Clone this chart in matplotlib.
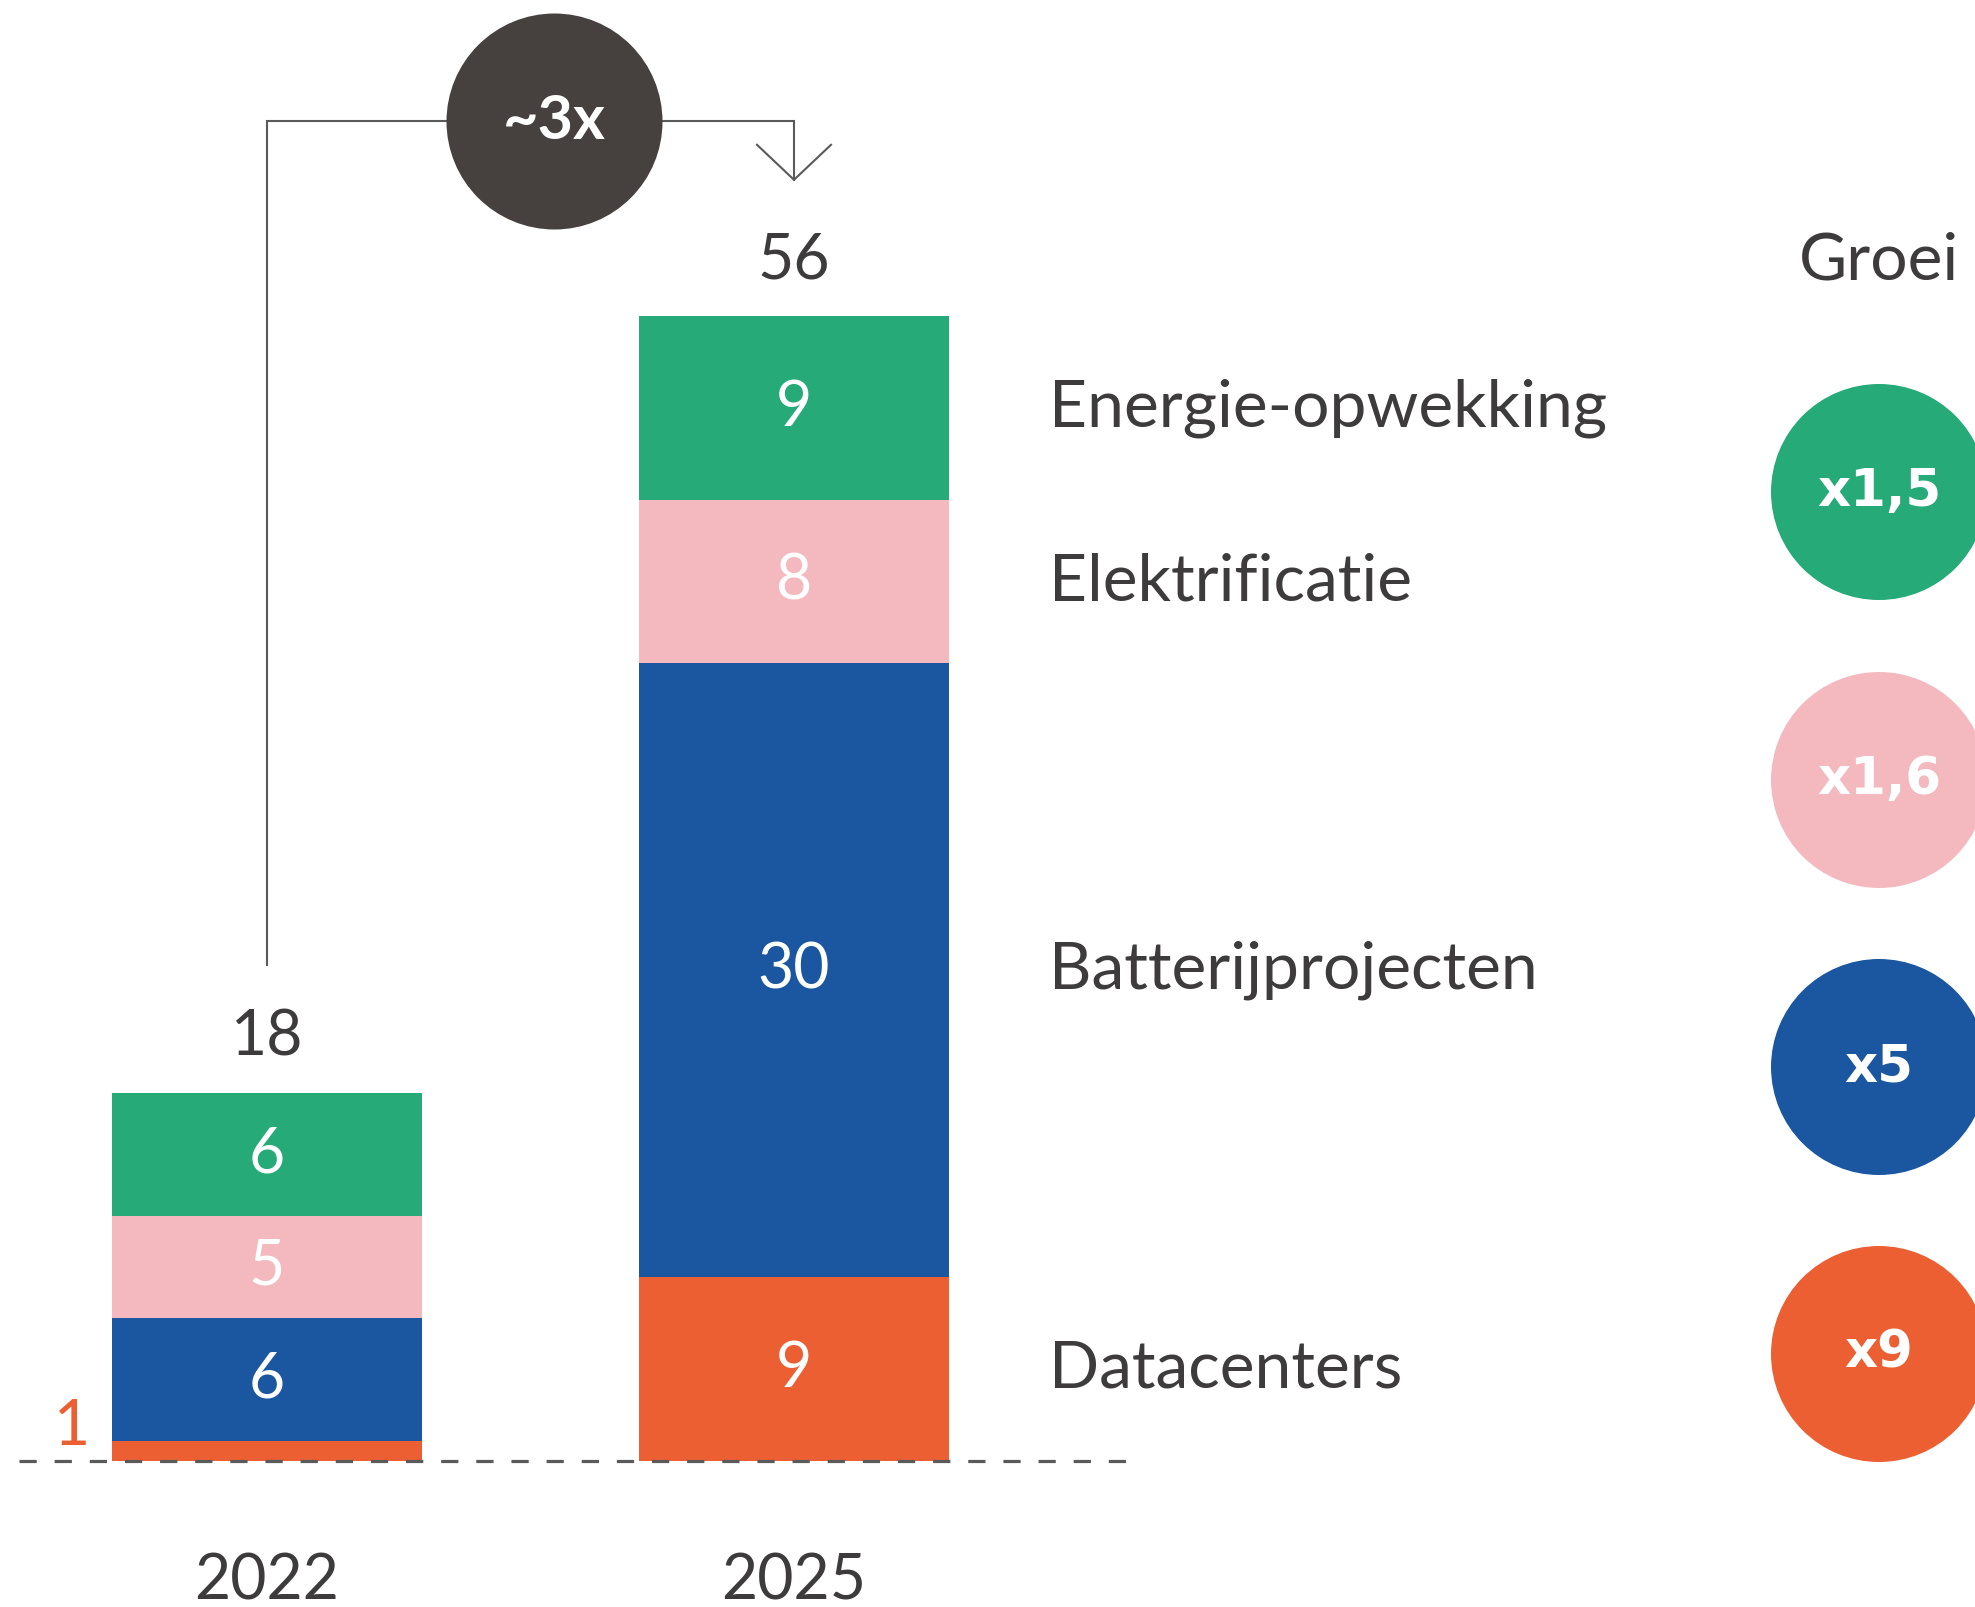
import numpy as np
import matplotlib
matplotlib.use('Agg')
import matplotlib.pyplot as plt

# data

years = ['2022', '2025']
categories = ['Datacenters', 'Batterijprojecten', 'Elektrificatie', 'Energie-opwekking']
values_2022 = [1, 6, 5, 6]
values_2025 = [9, 30, 8, 9]
growth = ['x9', 'x5', 'x1,6', 'x1,5']
colors = ['#EB5F33', '#1B56A0', '#F4B9BE', '#25AA78']
total_growth = '~3x'

txt = '#3d3b3b'
plt.rcParams['font.family'] = ['Lato', 'DejaVu Sans']

# canvas: one axes over the whole figure, y in data units

W, H = 1975, 1607
x0_px, dx_px = 267, 527      # centre of first bar, distance between bars
base_px, unit_px = 1461, 20.45

fig = plt.figure(figsize=(W / 100, H / 100), dpi=100)
ax = fig.add_axes([0, 0, 1, 1])
ax.axis('off')
ax.set_xlim(-x0_px / dx_px, (W - x0_px) / dx_px)
ax.set_ylim(-(H - base_px) / unit_px, base_px / unit_px)

def px(x, y):
    # figure pixel (top-left origin) -> data coords
    return (x - x0_px) / dx_px, (base_px - y) / unit_px

xpos = np.arange(len(years))
width = 0.59
fs = 45        # numbers
fs_lab = 47.5  # category names

# stacked bars

bottoms = np.zeros(len(years))
for i, cat in enumerate(categories):
    vals = np.array([values_2022[i], values_2025[i]], dtype=float)
    ax.bar(xpos, vals, width=width, bottom=bottoms, color=colors[i], linewidth=0, zorder=2)
    for j in range(len(years)):
        v = vals[j]
        if v >= 2:
            ax.text(xpos[j], bottoms[j] + v / 2, '%d' % v, color='white', fontsize=fs,
                    ha='center', va='center', zorder=3)
        else:
            ax.text(xpos[j] - width / 2 - 39 / dx_px, bottoms[j] + v + 0.66, '%d' % v,
                    color=colors[i], fontsize=fs, ha='center', va='center', zorder=3)
    # category label next to the last bar
    ax.text(px(1049, 0)[0], bottoms[-1] + vals[-1] / 2, cat, color=txt, fontsize=fs_lab,
            ha='left', va='center')
    bottoms += vals

totals = bottoms
for j in range(len(years)):
    ax.annotate('%d' % totals[j], (xpos[j], totals[j]), xytext=(0, 40), textcoords='offset points',
                ha='center', va='center', fontsize=fs, color=txt)
    ax.annotate(years[j], (xpos[j], 0), xytext=(0, -87), textcoords='offset points',
                ha='center', va='center', fontsize=fs, color=txt)

# baseline
ax.plot([px(19, 0)[0], px(1128, 0)[0]], [0, 0], color='#5a5a5a', lw=2.3,
        dashes=(5.4, 5.6), zorder=4)

# growth bracket
y_top = px(0, 121)[1]
y_start = totals[0] + 128 / unit_px
y_tip = totals[1] + 136 / unit_px
lc = '#5a5a5a'
ax.plot([xpos[0], xpos[0], xpos[1], xpos[1]], [y_start, y_top, y_top, y_tip], color=lc, lw=1.5,
        solid_joinstyle='miter')
ax.plot([xpos[1] - 37 / dx_px, xpos[1], xpos[1] + 37 / dx_px],
        [y_tip + 35 / unit_px, y_tip, y_tip + 35 / unit_px], color=lc, lw=1.5)
cx, cy = px(554, 121)
ax.scatter([cx], [cy], s=(216 * 0.72) ** 2, color='#46403f', linewidths=0, zorder=5)
ax.text(cx, cy, total_growth, color='white', fontsize=44, fontweight='bold',
        ha='center', va='center', zorder=6)

# growth column
gx = px(1879, 0)[0]
ax.text(gx, px(0, 261)[1], 'Groei', color=txt, fontsize=fs_lab, ha='center', va='center')
gy = [px(0, y)[1] for y in [1354, 1067, 780, 492]]
ax.scatter([gx] * len(growth), gy, s=(216 * 0.72) ** 2, color=colors, linewidths=0, zorder=5)
for g, y in zip(growth, gy):
    ax.text(gx, y, g, color='white', fontsize=37, fontweight='bold', family='DejaVu Sans',
            ha='center', va='center', zorder=6)

fig.savefig('out.png', dpi=100)
